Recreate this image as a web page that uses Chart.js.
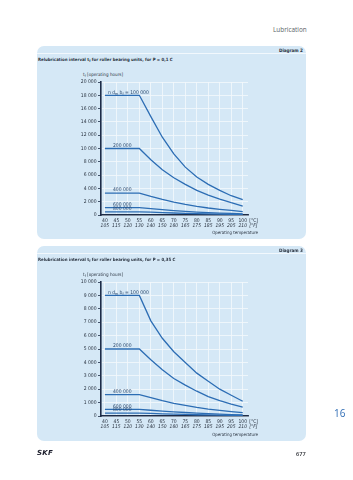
<!DOCTYPE html>
<html>
<head>
<meta charset="utf-8">
<script src="https://cdn.jsdelivr.net/npm/chart.js@4.4.0/dist/chart.umd.min.js"></script>
<style>
  body { margin: 0; width: 353px; height: 480px; background: #fff; position: relative; overflow: hidden;
         font-family: "Liberation Sans Narrow", "DejaVu Sans Condensed", sans-serif; color: #2a3340; }
  .abs { position: absolute; white-space: nowrap; }
  .panel { position: absolute; left: 37px; width: 269px; background: #d5e8f6; border-radius: 7px; }
  .hdr-line { position: absolute; left: 0; right: 0; top: 7px; height: 1px; background: #f2f8fd; }
  .diag { position: absolute; right: 3px; top: 1.5px; font-size: 4.6px; font-weight: bold; line-height: 5px; }
  .title { position: absolute; left: 1px; top: 10.5px; font-size: 4.35px; font-weight: bold; line-height: 5px; }
  .ytitle { position: absolute; left: 46px; font-size: 4.6px; line-height: 5px; }
  .optemp { position: absolute; right: 48px; font-size: 4.4px; line-height: 5px; }
  sub { font-size: 3.4px; vertical-align: -1px; line-height: 0; }
  canvas { position: absolute; left: 0; }
</style>
</head>
<body>
<div class="abs" style="left:273px; top:25px; font-family:'Open Sans',sans-serif; font-size:6.4px; color:#5a5f66;">Lubrication</div>

<div class="panel" style="top:46px; height:193px;">
  <div class="hdr-line"></div>
  <div class="diag">Diagram 2</div>
  <div class="title">Relubrication interval t<sub>f</sub> for roller bearing units, for P = 0,1 C</div>
  <div class="ytitle" style="top:25.5px;">t<sub>f</sub> [operating hours]</div>
  <canvas id="c1" width="269" height="177" style="top:16px;"></canvas>
  <div class="optemp" style="top:183.5px;">Operating temperature</div>
</div>

<div class="panel" style="top:246px; height:195px;">
  <div class="hdr-line"></div>
  <div class="diag">Diagram 3</div>
  <div class="title">Relubrication interval t<sub>f</sub> for roller bearing units, for P = 0,35 C</div>
  <div class="ytitle" style="top:25.5px;">t<sub>f</sub> [operating hours]</div>
  <canvas id="c2" width="269" height="179" style="top:16px;"></canvas>
  <div class="optemp" style="top:185.5px;">Operating temperature</div>
</div>

<div class="abs" style="left:334px; top:406px; font-family:'Open Sans',sans-serif; font-size:10px; color:#2f6db5;">16</div>
<div class="abs" style="left:37px; top:449px; font-family:'DejaVu Sans',sans-serif; font-size:7px; font-weight:900; font-style:italic; letter-spacing:0.3px; color:#1b1d2b;">SKF</div>
<div class="abs" style="left:296px; top:450px; font-family:'Open Sans',sans-serif; font-size:5.6px; font-weight:600; color:#2a2d33;">677</div>

<script>
// Operating temperature, x axis
const tempC = [40, 45, 50, 55, 60, 65, 70, 75, 80, 85, 90, 95, 100];
const tempF = ['105', '115', '120', '130', '140', '150', '160', '165', '175', '185', '195', '205', '210'];

// n dm bf values for the curves
const curveNames = ['100 000', '200 000', '400 000', '600 000', '800 000'];

// Diagram 2, P = 0,1 C  (hours)
const d2_100k = [18000, 18000, 18000, 18000, 14800, 11700, 9200, 7200, 5700, 4600, 3700, 2900, 2300];
const d2_200k = [10000, 10000, 10000, 10000, 8300, 6800, 5600, 4600, 3700, 3000, 2400, 1850, 1350];
const d2_400k = [3300, 3300, 3300, 3300, 2800, 2350, 1950, 1600, 1300, 1050, 850, 680, 520];
const d2_600k = [1100, 1100, 1100, 1100, 950, 800, 660, 540, 440, 360, 290, 230, 180];
const d2_800k = [480, 480, 480, 480, 420, 360, 300, 250, 210, 170, 140, 110, 90];

// Diagram 3, P = 0,35 C  (hours)
const d3_100k = [9000, 9000, 9000, 9000, 7100, 5800, 4800, 4000, 3200, 2600, 2000, 1550, 1100];
const d3_200k = [5000, 5000, 5000, 5000, 4200, 3450, 2800, 2300, 1850, 1450, 1150, 880, 660];
const d3_400k = [1600, 1600, 1600, 1600, 1380, 1150, 950, 790, 640, 520, 420, 330, 250];
const d3_600k = [500, 500, 500, 500, 430, 370, 310, 260, 210, 170, 140, 110, 85];
const d3_800k = [220, 220, 220, 220, 190, 160, 135, 115, 95, 80, 65, 52, 40];

const lineBlue = '#2c6db4';
const axisDark = '#1d2c48';
const gridWhite = '#f4f9fd';
const txtDark = '#2a3340';
const fontFam = '"Liberation Sans Narrow", "DejaVu Sans Condensed", sans-serif';

Chart.defaults.font.family = fontFam;
Chart.defaults.font.size = 5;
Chart.defaults.color = txtDark;

const fmt = (v) => String(v).replace(/\B(?=(\d{3})+(?!\d))/g, ' ');

// draws "n dm bf = 100 000" with subscripts
const drawSubLabel = (ctx, x, y, value) => {
  const parts = [['n d', 0], ['m', 1], [' b', 0], ['f', 1], [' = ' + value, 0]];
  parts.forEach(([t, sub]) => {
    ctx.font = (sub ? '3.6px ' : '5px ') + fontFam;
    ctx.fillText(t, x, y + (sub ? 1.2 : 0));
    x += ctx.measureText(t).width;
  });
};

const curveLabels = {
  id: 'curveLabels',
  afterDatasetsDraw(chart) {
    const { ctx, scales: { x, y } } = chart;
    ctx.save();
    ctx.fillStyle = '#2d4a6e';
    ctx.textBaseline = 'alphabetic';
    ctx.textAlign = 'left';
    chart.data.datasets.forEach((ds, i) => {
      const px = x.getPixelForValue(i === 0 ? 41.3 : 43.5);
      const py = y.getPixelForValue(ds.data[0].y) - 1.6;
      if (i === 0) {
        drawSubLabel(ctx, px, py, ds.label);
      } else {
        ctx.font = '5px ' + fontFam;
        ctx.fillText(ds.label, px, py);
      }
    });

    // second row of the x axis: degrees Fahrenheit
    ctx.fillStyle = txtDark;
    ctx.textBaseline = 'middle';
    ctx.textAlign = 'center';
    ctx.font = 'italic 5px ' + fontFam;
    tempC.forEach((t, k) => {
      ctx.fillText(tempF[k], x.getPixelForValue(t), x.top + 10.8);
    });

    // unit labels after the last tick
    ctx.textAlign = 'left';
    ctx.fillText('[°F]', x.getPixelForValue(100) + 6.5, x.top + 10.8);
    ctx.font = '5px ' + fontFam;
    ctx.fillText('[°C]', x.getPixelForValue(100) + 6.5, x.top + 6);
    ctx.restore();
  }
};

const makeChart = (id, series, yMax, yStep, padBottom) => {
  const ctx = document.getElementById(id).getContext('2d');
  return new Chart(ctx, {
    type: 'line',
    data: {
      datasets: series.map((s, i) => ({
        label: curveNames[i],
        data: tempC.map((t, k) => ({ x: t, y: s[k] })),
        borderColor: lineBlue,
        borderWidth: 1.3,
        pointRadius: 0,
        tension: 0,
        fill: false
      }))
    },
    options: {
      responsive: false,
      animation: false,
      events: [],
      layout: { padding: { top: 20, right: 58, bottom: padBottom, left: 0 } },
      plugins: { legend: { display: false }, tooltip: { enabled: false } },
      scales: {
        x: {
          type: 'linear',
          position: 'bottom',
          min: 38.3,
          max: 102.3,
          afterBuildTicks: (scale) => { scale.ticks = tempC.map(v => ({ value: v })); },
          afterFit: (scale) => { scale.height = 13; },
          ticks: { autoSkip: false, maxRotation: 0, padding: 3, callback: (v) => String(v) },
          grid: { color: gridWhite, lineWidth: 0.8, drawTicks: false },
          border: { color: axisDark, width: 1.6 }
        },
        y: {
          min: 0,
          max: yMax,
          afterFit: (scale) => { scale.width = 64; },
          ticks: { stepSize: yStep, padding: 1.5, callback: (v) => fmt(v) },
          grid: { color: gridWhite, lineWidth: 0.8, tickColor: axisDark, tickLength: 3 },
          border: { color: axisDark, width: 1.6 }
        }
      }
    },
    plugins: [curveLabels]
  });
};

makeChart('c1', [d2_100k, d2_200k, d2_400k, d2_600k, d2_800k], 20000, 2000, 11);
makeChart('c2', [d3_100k, d3_200k, d3_400k, d3_600k, d3_800k], 10000, 1000, 12);
</script>
</body>
</html>
